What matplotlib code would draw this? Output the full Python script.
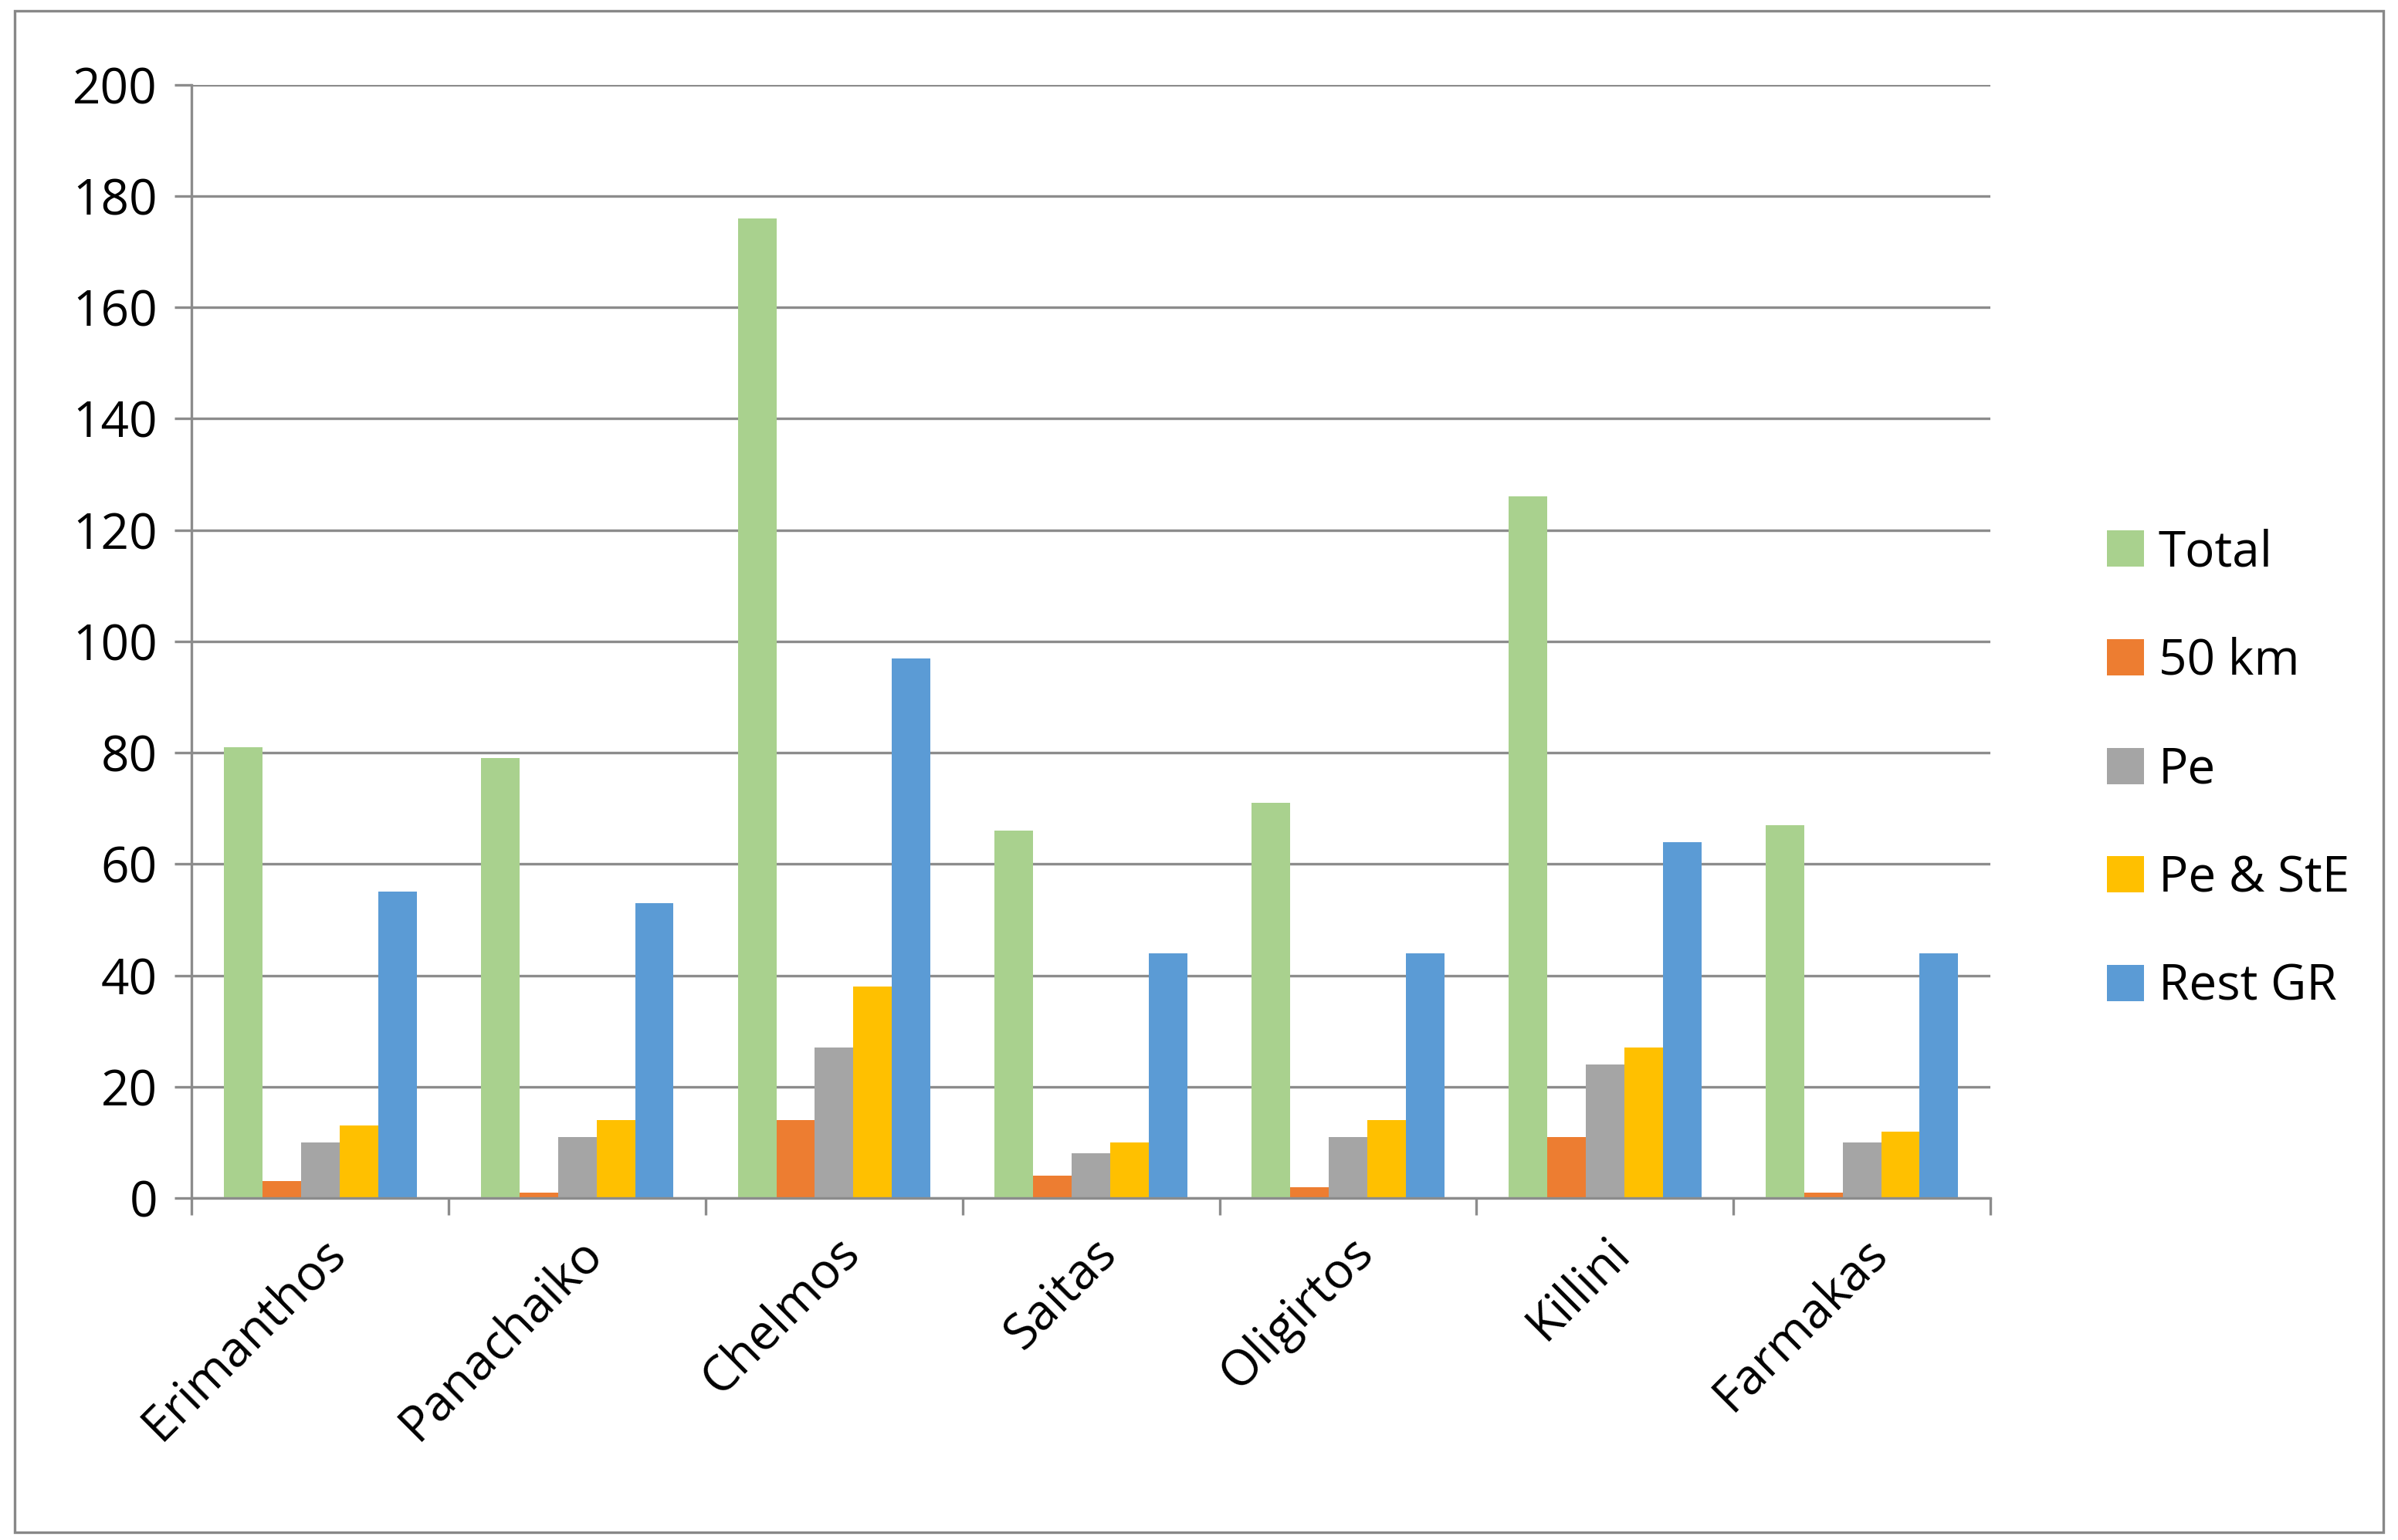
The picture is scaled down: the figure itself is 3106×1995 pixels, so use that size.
import matplotlib
matplotlib.use("Agg")
import matplotlib.pyplot as plt
import numpy as np
from matplotlib.patches import Rectangle

categories = ["Erimanthos", "Panachaiko", "Chelmos", "Saitas", "Oligirtos", "Killini", "Farmakas"]
series_names = ["Total", "50 km", "Pe", "Pe & StE", "Rest GR"]
total = [81, 79, 176, 66, 71, 126, 67]
km50 = [3, 1, 14, 4, 2, 11, 1]
pe = [10, 11, 27, 8, 11, 24, 10]
pe_ste = [13, 14, 38, 10, 14, 27, 12]
rest_gr = [55, 53, 97, 44, 44, 64, 44]
colors = ["#A9D18E", "#ED7D31", "#A5A5A5", "#FFC000", "#5B9BD5"]

plt.rcParams['font.family'] = ['Open Sans', 'DejaVu Sans']
fig = plt.figure(figsize=(15.53, 9.975), dpi=200)
fig.patches.append(Rectangle((0.006, 0.005), 0.988, 0.988, transform=fig.transFigure,
                             fill=False, edgecolor="#888888", linewidth=1.2))
ax = fig.add_axes([0.08, 0.222, 0.75, 0.723])
x = np.arange(len(categories))
w = 0.15
data = [total, km50, pe, pe_ste, rest_gr]
for i, (d, c, n) in enumerate(zip(data, colors, series_names)):
    ax.bar(x + (i - 2) * w, d, w, color=c, label=n)
ax.set_xlim(-0.5, len(categories) - 0.5)
ax.set_ylim(0, 200)
ax.set_yticks(range(0, 201, 20))
ax.yaxis.grid(True, color="#8c8c8c", linewidth=1.2)
ax.set_axisbelow(True)
for s in ["top", "right"]:
    ax.spines[s].set_visible(False)
for s in ["left", "bottom"]:
    ax.spines[s].set_color("#8c8c8c")
    ax.spines[s].set_linewidth(1.2)
ax.set_xticks(x)
ax.set_xticklabels(categories, rotation=45, ha="right", rotation_mode="anchor", fontsize=23)
ax.tick_params(axis="x", length=0, pad=14)
ax.set_xticks(np.arange(-0.5, len(categories)), minor=True)
ax.tick_params(axis="x", which="minor", length=8, color="#8c8c8c", width=1.2)
ax.tick_params(axis="y", labelsize=23, length=8, color="#8c8c8c", width=1.2, pad=8)
fig.legend(loc="center left", bbox_to_anchor=(0.86, 0.5), frameon=False, fontsize=23,
           handlelength=0.75, handleheight=0.75, labelspacing=1.2, handletextpad=0.3)
fig.savefig("out.png", dpi=200)
